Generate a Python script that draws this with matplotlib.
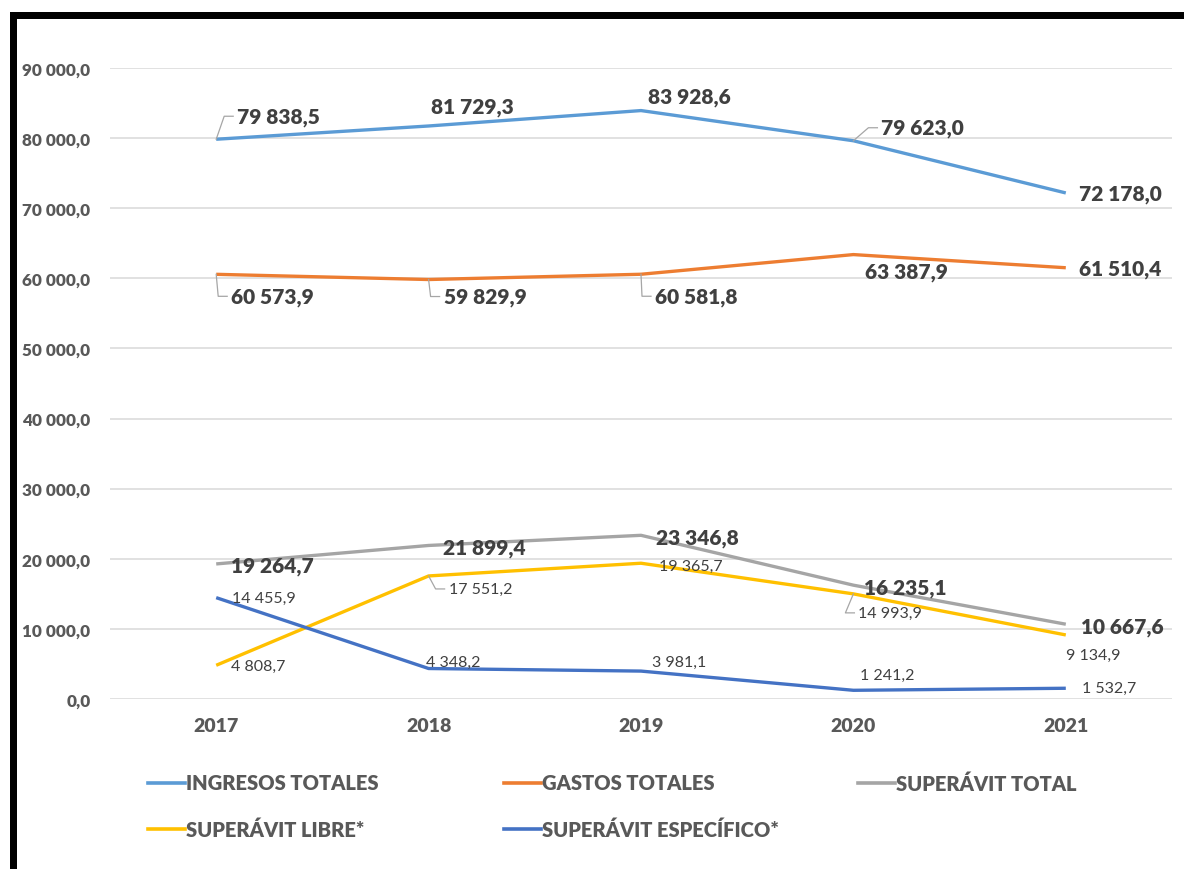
import numpy as np
import matplotlib
matplotlib.use("Agg")
import matplotlib.pyplot as plt
from matplotlib.lines import Line2D
from matplotlib.patches import Rectangle

plt.rcParams["font.family"] = ["Lato", "DejaVu Sans"]

years = ["2017", "2018", "2019", "2020", "2021"]
ingresos = [79838.5, 81729.3, 83928.6, 79623.0, 72178.0]
gastos = [60573.9, 59829.9, 60581.8, 63387.9, 61510.4]
sup_total = [19264.7, 21899.4, 23346.8, 16235.1, 10667.6]
sup_libre = [4808.7, 17551.2, 19365.7, 14993.9, 9134.9]
sup_especifico = [14455.9, 4348.2, 3981.1, 1241.2, 1532.7]

names = ["INGRESOS TOTALES", "GASTOS TOTALES", "SUPERÁVIT TOTAL",
         "SUPERÁVIT LIBRE*", "SUPERÁVIT ESPECÍFICO*"]
colors = ["#5B9BD5", "#ED7D31", "#A5A5A5", "#FFC000", "#4472C4"]
series = [ingresos, gastos, sup_total, sup_libre, sup_especifico]

# label placement: (dx, dy) in pixels from the point (dy positive = down), leader flag
label_pos = [
    [(21, -23, True), (2, -19, False), (7, -14, False), (28, -13, True), (13, 1, False)],
    [(15, 22, True), (15, 17, True), (14, 22, True), (12, 17, False), (13, 1, False)],
    [(15, 2, False), (14, 2, False), (15, 2, False), (11, 2, False), (15, 2, False)],
    [(15, 1, False), (20, 13, True), (18, 3, False), (5, 19, True), (0, 20, False)],
    [(16, 0, False), (-3, -7, False), (11, -9, False), (7, -15, False), (16, 0, False)],
]
big = [True, True, True, False, False]


def fmt(v):
    return f"{v:,.1f}".replace(",", " ").replace(".", ",")


W, H = 1184, 870
fig = plt.figure(figsize=(W / 100, H / 100), dpi=100)
ax = fig.add_axes([110 / W, (H - 700) / H, (1172 - 110) / W, (700 - 69) / H])

x = np.arange(len(years))
for vals, col in zip(series, colors):
    ax.plot(x, vals, color=col, lw=2.4, solid_capstyle="butt", zorder=3)

ax.set_xlim(-0.5, 4.5)
ax.set_ylim(0, 90000)
ax.set_yticks(np.arange(0, 90001, 10000))
ax.set_yticklabels([fmt(t) for t in np.arange(0, 90001, 10000)])
ax.set_xticks(x)
ax.set_xticklabels(years)
ax.grid(axis="y", color="#D9D9D9", lw=1.1)
ax.set_axisbelow(True)
for s in ax.spines.values():
    s.set_visible(False)
ax.tick_params(axis="y", length=0, pad=14, labelsize=12.3, labelcolor="#595959")
ax.tick_params(axis="x", length=0, pad=13, labelsize=14, labelcolor="#595959")
for lab in ax.get_yticklabels() + ax.get_xticklabels():
    lab.set_fontweight("heavy")

# data labels with leader lines
inv = ax.transData.inverted()
for vals, pos, is_big in zip(series, label_pos, big):
    for xi, v, (dx, dy, leader) in zip(x, vals, pos):
        if is_big:
            kw = dict(fontsize=15, fontweight="heavy", color="#404040")
        else:
            kw = dict(fontsize=11.5, color="#404040")
        ax.annotate(fmt(v), xy=(xi, v), xytext=(dx, -dy), textcoords="offset pixels",
                    ha="left", va="center", zorder=5, **kw)
        if leader:
            px, py = ax.transData.transform((xi, v))
            pts = [(px, py), (px + dx - 13, py - dy), (px + dx - 4, py - dy)]
            dpts = inv.transform(pts)
            ax.plot(dpts[:, 0], dpts[:, 1], color="#A6A6A6", lw=0.9, zorder=4)

# legend, two rows
leg_cols = [148, 504, 858]
leg_rows = [784, 830]
for i, (name, col) in enumerate(zip(names, colors)):
    lx = leg_cols[i % 3]
    ly = leg_rows[i // 3]
    fig.add_artist(Line2D([lx / W, (lx + 37) / W], [(H - ly) / H] * 2,
                          color=col, lw=2.6, transform=fig.transFigure))
    fig.text((lx + 38) / W, (H - ly) / H, name, ha="left", va="center",
             fontsize=14.5, fontweight="heavy", color="#595959")

# black frame on left and top
fig.add_artist(Rectangle((10 / W, 0), 7 / W, (H - 13) / H, transform=fig.transFigure,
                         color="black", lw=0))
fig.add_artist(Rectangle((10 / W, (H - 20) / H), (W - 10) / W, 7 / H,
                         transform=fig.transFigure, color="black", lw=0))

fig.savefig("out.png", dpi=100, facecolor="white")
